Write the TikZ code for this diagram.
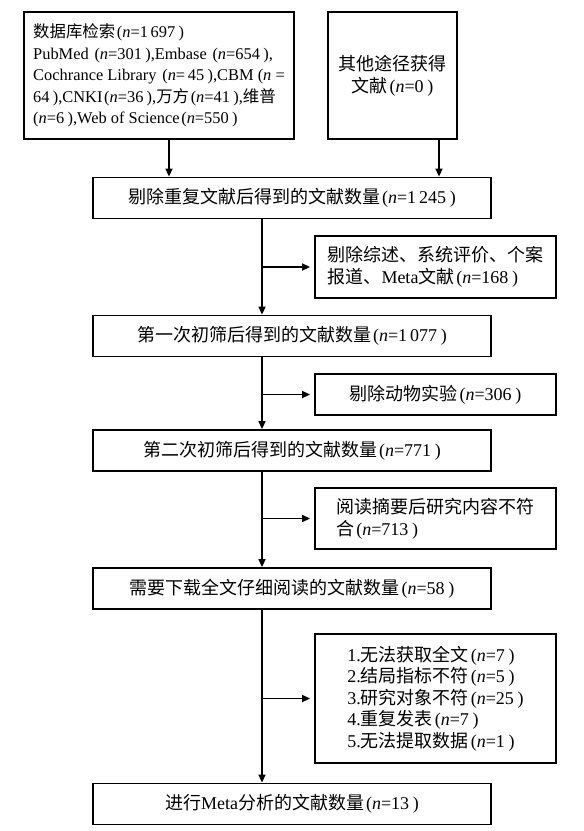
\documentclass[tikz,border=0pt]{standalone}
\usepackage{fontspec}
\setmainfont{Liberation Serif}
\newfontfamily\cjk{Noto Sans CJK SC}
\usetikzlibrary{arrows.meta, positioning}
\newcommand{\nv}[1]{\hspace{0.1em}(\textit{n}=#1\hspace{0.2em})}

\begin{document}
\begin{tikzpicture}[x=1pt, y=-1pt,
    every node/.style={font=\fontsize{18}{21.6}\selectfont},
    flowBox/.style={draw, line width=1.8pt, minimum width=398pt, minimum height=41pt, inner sep=3pt},
    sideBox/.style={draw, line width=1.8pt, minimum width=241pt, align=left, inner sep=3pt},
    arr/.style={-{Triangle[length=8pt, width=7pt]}, line width=1.5pt}]
    \useasboundingbox (0,0) rectangle (584,831);

    % sources
    \node[draw, line width=1.8pt, minimum width=270pt, minimum height=127pt, align=left, inner sep=3pt,
          font=\fontsize{16.4}{21.6}\selectfont] (dbSearch) at (159,75.5)
        {{\cjk 数据库检索}\nv{1\,697}\\
         PubMed \nv{301},Embase \nv{654},\\
         Cochrance Library \nv{\,45},CBM (\textit{n} =\\
         64\hspace{0.2em}),CNKI\nv{36},{\cjk 万方}\nv{41},{\cjk 维普}\\
         (\textit{n}=6\hspace{0.2em}),Web of Science\nv{550}};
    \node[draw, line width=1.8pt, minimum width=129pt, minimum height=127pt, align=center] (otherSrc) at (392.5,75.5)
        {{\cjk 其他途径获得}\\{\cjk 文献}\nv{0}};

    % main column
    \node[flowBox] (dedup) at (292,198) {{\cjk 剔除重复文献后得到的文献数量}\nv{1\,245}};
    \node[flowBox] (scrOne) at (292,336) {{\cjk 第一次初筛后得到的文献数量}\nv{1\,077}};
    \node[flowBox] (scrTwo) at (292,450.5) {{\cjk 第二次初筛后得到的文献数量}\nv{771}};
    \node[flowBox] (fullText) at (292,588.5) {{\cjk 需要下载全文仔细阅读的文献数量}\nv{58}};
    \node[flowBox] (final) at (292,804) {{\cjk 进行}Meta{\cjk 分析的文献数量}\nv{13}};

    % exclusions
    \node[sideBox, minimum height=62pt] (exclOne) at (435.5,267)
        {{\cjk 剔除综述、系统评价、个案}\\{\cjk 报道、}Meta{\cjk 文献}\nv{168}};
    \node[sideBox, minimum height=41pt] (exclTwo) at (435.5,394.5) {{\cjk 剔除动物实验}\nv{306}};
    \node[sideBox, minimum height=61pt] (exclThree) at (435.5,518.5)
        {{\cjk 阅读摘要后研究内容不符}\\{\cjk 合}\nv{713}};
    \node[sideBox, minimum height=129pt] (exclFour) at (435.5,698.5)
        {1.{\cjk 无法获取全文}\nv{7}\\
         2.{\cjk 结局指标不符}\nv{5}\\
         3.{\cjk 研究对象不符}\nv{25}\\
         4.{\cjk 重复发表}\nv{7}\\
         5.{\cjk 无法提取数据}\nv{1}};

    \coordinate (dbX) at (169,0);
    \coordinate (otX) at (439,0);
    \coordinate (mainX) at (262,0);

    % connectors
    \draw[arr] (dbSearch.south -| dbX) -- (dedup.north -| dbX);
    \draw[arr] (otherSrc.south -| otX) -- (dedup.north -| otX);
    \draw[arr] (dedup.south -| mainX) -- (scrOne.north -| mainX);
    \draw[arr] (scrOne.south -| mainX) -- (scrTwo.north -| mainX);
    \draw[arr] (scrTwo.south -| mainX) -- (fullText.north -| mainX);
    \draw[arr] (fullText.south -| mainX) -- (final.north -| mainX);
    \draw[arr, shorten >=4pt] (mainX |- exclOne.west) -- (exclOne.west);
    \draw[arr, shorten >=4pt] (mainX |- exclTwo.west) -- (exclTwo.west);
    \draw[arr, shorten >=4pt] (mainX |- exclThree.west) -- (exclThree.west);
    \draw[arr, shorten >=4pt] (mainX |- exclFour.west) -- (exclFour.west);
\end{tikzpicture}
\end{document}
